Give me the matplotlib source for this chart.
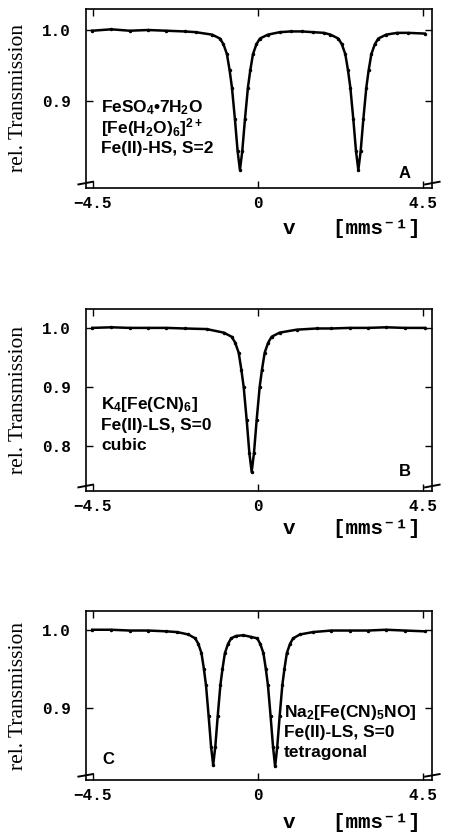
# imports
import matplotlib
matplotlib.use("Agg")
import matplotlib.pyplot as plt

# fonts
plt.rcParams["mathtext.fontset"] = "custom"
plt.rcParams["mathtext.rm"] = "Liberation Sans:bold"
plt.rcParams["mathtext.it"] = "Liberation Sans:bold"
plt.rcParams["mathtext.bf"] = "Liberation Sans:bold"

# spectrum A: FeSO4*7H2O, velocity [mm/s] and rel. transmission
v_a = [-4.52, -4.0, -3.5, -3.0, -2.5, -2.0, -1.7,
       -1.25, -1.035, -0.94, -0.845, -0.771, -0.708, -0.626, -0.553, -0.49,
       -0.427, -0.354, -0.272, -0.209, -0.135, -0.04, 0.055, 0.274,
       0.6, 0.9, 1.2, 1.5, 1.8,
       1.98, 2.195, 2.29, 2.385, 2.459, 2.522, 2.604, 2.677, 2.74,
       2.803, 2.876, 2.958, 3.021, 3.095, 3.19, 3.285, 3.50,
       3.8, 4.1, 4.55]
t_a = [0.999, 1.001, 0.999, 1.000, 0.999, 0.998, 0.997,
       0.9935, 0.988, 0.980, 0.966, 0.943, 0.919, 0.874, 0.829, 0.803,
       0.829, 0.874, 0.919, 0.943, 0.966, 0.980, 0.988, 0.9935,
       0.997, 0.998, 0.998, 0.997, 0.996,
       0.9935, 0.988, 0.980, 0.966, 0.943, 0.919, 0.874, 0.829, 0.803,
       0.829, 0.874, 0.919, 0.943, 0.966, 0.980, 0.988, 0.9935,
       0.996, 0.996, 0.995]

# spectrum B: K4[Fe(CN)6]
v_b = [-4.52, -4.0, -3.5, -3.0, -2.5, -2.0, -1.4,
       -0.934, -0.715, -0.62, -0.525, -0.451, -0.388, -0.306, -0.233, -0.17,
       -0.107, -0.034, 0.048, 0.111, 0.185, 0.28, 0.375, 0.594,
       1.06, 1.6, 2.0, 2.5, 3.0, 3.5, 4.0, 4.55]
t_b = [1.000, 1.001, 1.000, 1.000, 1.000, 0.999, 0.998,
       0.992, 0.985, 0.975, 0.958, 0.929, 0.900, 0.844, 0.788, 0.756,
       0.788, 0.844, 0.900, 0.929, 0.958, 0.975, 0.985, 0.992,
       0.997, 0.999, 0.999, 1.000, 1.000, 1.001, 1.000, 1.000]

# spectrum C: Na2[Fe(CN)5NO]
v_c = [-4.52, -4.0, -3.5, -3.0, -2.5, -2.2,
       -1.90, -1.71, -1.626, -1.539, -1.474, -1.416, -1.343, -1.277, -1.22,
       -1.163, -1.097, -1.024, -0.966, -0.901, -0.814, -0.73,
       -0.6, -0.4, -0.2,
       -0.02, 0.064, 0.151, 0.216, 0.274, 0.347, 0.413, 0.47,
       0.527, 0.593, 0.666, 0.724, 0.789, 0.876, 0.96, 1.15,
       1.5, 2.0, 2.5, 3.0, 3.5, 4.0, 4.55]
t_c = [1.000, 1.000, 0.999, 0.999, 0.998, 0.997,
       0.994, 0.989, 0.982, 0.970, 0.950, 0.929, 0.889, 0.850, 0.827,
       0.850, 0.889, 0.929, 0.950, 0.970, 0.982, 0.989,
       0.992, 0.993, 0.991,
       0.989, 0.982, 0.970, 0.950, 0.929, 0.889, 0.850, 0.825,
       0.850, 0.889, 0.929, 0.950, 0.970, 0.982, 0.989, 0.994,
       0.997, 0.999, 0.999, 0.999, 1.000, 0.999, 0.998]

# axis ticks
x_ticks = [-4.5, 0, 4.5]
x_ticklabels = ["\u22124.5", "0", "4.5"]
y_ticks_a = [1.0, 0.9]
y_ticks_b = [1.0, 0.9, 0.8]
y_ticks_c = [1.0, 0.9]

# annotation text
labels_a = ["FeSO$_4$\u20227H$_2$O", "[Fe(H$_2$O)$_6$]$^{2+}$", "Fe(II)-HS, S=2"]
labels_b = ["K$_4$[Fe(CN)$_6$]", "Fe(II)-LS, S=0", "cubic"]
labels_c = ["Na$_2$[Fe(CN)$_5$NO]", "Fe(II)-LS, S=0", "tetragonal"]

# create the figure
fig = plt.figure(figsize=(4.51, 8.34), dpi=100, facecolor="white")

W, H = 451.0, 834.0
MONO = ["Liberation Mono", "DejaVu Sans Mono"]


def add_panel(top, bottom, ylim, v, t, yticks, labels, lab_x, lab_y, letter, let_x, let_y, xl_off):
    ax = fig.add_axes([86 / W, 1 - bottom / H, 346 / W, (bottom - top) / H])
    ax.plot(v, t, color="black", lw=1.8)
    ax.plot(v, t, ".", color="black", ms=3)
    ax.set_xlim(-4.69, 4.75)
    ax.set_ylim(*ylim)

    # ticks
    ax.set_xticks(x_ticks)
    ax.set_xticklabels(x_ticklabels, family=MONO, weight="bold", fontsize=11.5)
    ax.set_yticks(yticks)
    ax.set_yticklabels(["%.1f" % y for y in yticks], family=MONO,
                       weight="bold", fontsize=11.5)
    ax.tick_params(direction="in", length=5, width=1.0, top=True, right=True)
    ax.tick_params(axis="y", pad=11)
    ax.tick_params(axis="x", pad=6)
    for s in ax.spines.values():
        s.set_linewidth(1.2)

    # axis labels
    fig.text(19 / W, 1 - (top + bottom) / 2 / H, "rel. Transmission",
             family="Liberation Serif", fontsize=15.5, rotation=90,
             ha="center", va="center")
    fig.text(421 / W, 1 - (bottom + xl_off) / H, "v   [mms\u207b\u00b9]",
             family=MONO, weight="bold", fontsize=15, ha="right", va="center")

    # break marks
    for xs in ([-0.022, 0.02], [0.98, 1.022]):
        ax.plot(xs, [0.02, 0.035], transform=ax.transAxes, color="black",
                lw=1.4, clip_on=False)

    # annotation
    for i, txt in enumerate(labels):
        fig.text(lab_x / W, 1 - (lab_y + 20 * i) / H, txt, family="Liberation Sans",
                 weight="bold", fontsize=12.5, ha="left", va="center")
    fig.text(let_x / W, 1 - let_y / H, letter, family="Liberation Sans",
             weight="bold", fontsize=12, ha="center", va="center")
    return ax


add_panel(9, 188, (0.7775, 1.0296), v_a, t_a, y_ticks_a, labels_a, 101, 108, "A", 405, 173, 40)
add_panel(309, 491, (0.7237, 1.032), v_b, t_b, y_ticks_b, labels_b, 101, 405, "B", 405, 472, 37)
add_panel(611, 780, (0.8077, 1.024), v_c, t_c, y_ticks_c, labels_c, 284, 712, "C", 108, 760, 42)

fig.savefig("out.png", dpi=100, facecolor="white")
